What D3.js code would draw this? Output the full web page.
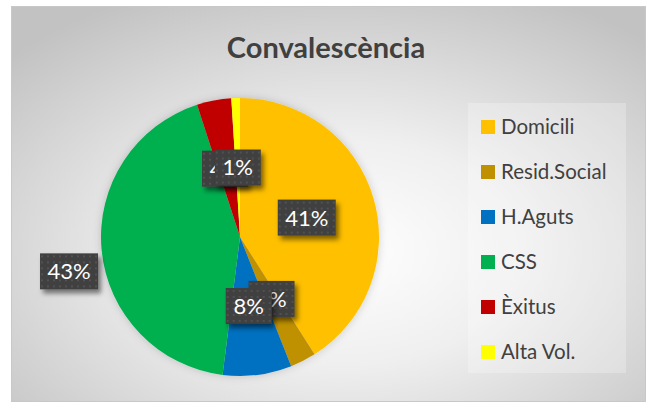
<!DOCTYPE html>
<html>
<head>
<meta charset="utf-8">
<script src="https://cdn.jsdelivr.net/npm/d3@7"></script>
<style>
  body { margin: 0; background: #fff; }
  text { font-family: Lato, "Open Sans", sans-serif; }
</style>
</head>
<body>
<div id="chart"></div>
<script>
// Chart data
var categories = ["Domicili", "Resid.Social", "H.Aguts", "CSS", "Èxitus", "Alta Vol."];
var values = [41, 3, 8, 43, 4, 1];
var colors = ["#FFC000", "#BF9000", "#0070C0", "#00B050", "#C00000", "#FFFF00"];
var title = "Convalescència";

var W = 646, H = 402;
var svg = d3.select("#chart").append("svg")
  .attr("width", W)
  .attr("height", H);

var defs = svg.append("defs");

// background gradient
var bg = defs.append("radialGradient")
  .attr("id", "bg")
  .attr("cx", "52%").attr("cy", "62%").attr("r", "72%");
bg.append("stop").attr("offset", "0%").attr("stop-color", "#ffffff");
bg.append("stop").attr("offset", "40%").attr("stop-color", "#efefef");
bg.append("stop").attr("offset", "100%").attr("stop-color", "#c2c2c2");

// dotted pattern for the label boxes
var pat = defs.append("pattern")
  .attr("id", "dots")
  .attr("patternUnits", "userSpaceOnUse")
  .attr("width", 6).attr("height", 6);
pat.append("rect").attr("width", 6).attr("height", 6).attr("fill", "#404040");
pat.append("rect").attr("x", 2).attr("y", 2).attr("width", 2).attr("height", 2).attr("fill", "#515151");

var shadow = defs.append("filter").attr("id", "shadow")
  .attr("x", "-30%").attr("y", "-30%").attr("width", "170%").attr("height", "170%");
shadow.append("feDropShadow")
  .attr("dx", 3).attr("dy", 4).attr("stdDeviation", 2.5)
  .attr("flood-color", "#000").attr("flood-opacity", 0.5);

var pieShadow = defs.append("filter").attr("id", "pieShadow")
  .attr("x", "-20%").attr("y", "-20%").attr("width", "140%").attr("height", "140%");
pieShadow.append("feDropShadow")
  .attr("dx", 0).attr("dy", 0).attr("stdDeviation", 4)
  .attr("flood-color", "#000").attr("flood-opacity", 0.18);

// chart area
svg.append("rect")
  .attr("x", 11.5).attr("y", 6.5)
  .attr("width", W - 12).attr("height", H - 7)
  .attr("fill", "url(#bg)")
  .attr("stroke", "#c8c8c8");

// title
svg.append("text")
  .attr("x", 326).attr("y", 58)
  .attr("text-anchor", "middle")
  .attr("font-size", "29px")
  .attr("font-weight", "bold")
  .attr("fill", "#404040")
  .text(title);

// pie
var cx = 240, cy = 237, R = 139;
var pie = d3.pie().sort(null).value(function (d) { return d; });
var arcs = pie(values);
var arc = d3.arc().innerRadius(0).outerRadius(R);

var g = svg.append("g").attr("transform", "translate(" + cx + "," + cy + ")");

g.append("g").attr("filter", "url(#pieShadow)")
  .selectAll("path")
  .data(arcs)
  .enter()
  .append("path")
  .attr("d", arc)
  .attr("fill", function (d, i) { return colors[i]; });

// label radius as fraction of R (CSS label sits outside the pie)
var labelR = [0.5, 0.5, 0.5, 1.25, 0.5, 0.5];
var labelNudge = [[0, 0], [0, 0], [0, 0], [2, 18], [-2, 0], [0, 0]];

var labels = g.selectAll(".lbl")
  .data(arcs)
  .enter()
  .append("g")
  .attr("class", "lbl")
  .attr("transform", function (d, i) {
    var a = (d.startAngle + d.endAngle) / 2;
    var r = R * labelR[i];
    var x = Math.sin(a) * r + labelNudge[i][0];
    var y = -Math.cos(a) * r + labelNudge[i][1];
    return "translate(" + x + "," + y + ")";
  });

labels.each(function (d, i) {
  var sel = d3.select(this);
  var txt = Math.round(d.data) + "%";
  var w = txt.length === 2 ? 46 : 58;
  var h = 36;
  sel.append("rect")
    .attr("x", -w / 2).attr("y", -h / 2)
    .attr("width", w).attr("height", h)
    .attr("fill", "url(#dots)")
    .attr("filter", "url(#shadow)");
  sel.append("text")
    .attr("text-anchor", "middle")
    .attr("dy", "0.36em")
    .attr("font-size", "22px")
    .attr("fill", "#ffffff")
    .text(txt);
});

// legend
var legend = svg.append("g");
legend.append("rect")
  .attr("x", 468).attr("y", 103)
  .attr("width", 158).attr("height", 270)
  .attr("fill", "#ffffff")
  .attr("fill-opacity", 0.25);

var y0 = 127, step = 45;
categories.forEach(function (c, i) {
  legend.append("rect")
    .attr("x", 481).attr("y", y0 + i * step - 7)
    .attr("width", 14).attr("height", 14)
    .attr("fill", colors[i]);
  legend.append("text")
    .attr("x", 501).attr("y", y0 + i * step)
    .attr("dy", "0.35em")
    .attr("font-size", "20.5px")
    .attr("fill", "#404040")
    .text(c);
});
</script>
</body>
</html>
